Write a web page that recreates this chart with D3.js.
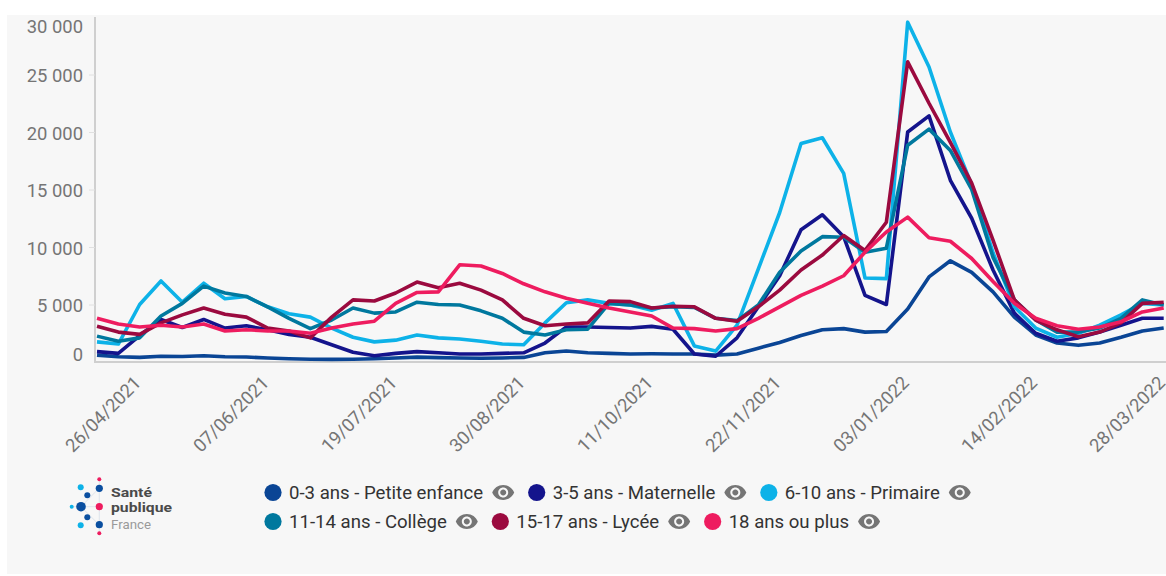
<!DOCTYPE html>
<html><head><meta charset="utf-8">
<script src="https://cdn.jsdelivr.net/npm/d3@7"></script>
<style>
html,body{margin:0;padding:0;background:#fff;overflow:hidden}
svg{display:block;font-family:Roboto,sans-serif}
</style></head><body>
<svg id="c" width="1166" height="576"></svg>
<script>
const firstWeek = "2021-04-12";
const tickLabels = ["26/04/2021","07/06/2021","19/07/2021","30/08/2021","11/10/2021","22/11/2021","03/01/2022","14/02/2022","28/03/2022"];
const yTicks = [0,5000,10000,15000,20000,25000,30000];

const petiteEnfance = [600,450,400,500,480,550,450,430,350,280,240,230,240,280,350,420,380,350,330,350,400,800,950,800,750,700,720,700,700,600,700,1200,1700,2300,2800,2900,2600,2650,4600,7400,8800,7800,6100,3900,2350,1650,1450,1650,2150,2700,2950];
const maternelle = [900,750,2300,3700,3000,3700,2950,3150,2800,2400,2150,1500,850,550,750,900,800,700,700,750,800,1650,3050,3050,3000,2950,3100,2850,700,500,2100,4800,7500,11500,12800,10900,5800,5000,20000,21400,15800,12500,8000,4250,2500,1800,2100,2600,3200,3800,3800];
const primaire = [1750,1560,5000,7050,5200,6850,5500,5700,4800,4200,3900,2950,2150,1750,1900,2350,2100,2000,1800,1560,1500,3400,5150,5400,5100,4950,4500,5100,1400,950,3200,8100,13000,19000,19500,16400,7300,7250,29550,25650,20000,15400,9500,4800,2950,2150,2500,3200,4100,5100,4950];
const college = [2250,1800,2100,4000,5100,6600,6000,5700,4800,3800,2900,3650,4700,4250,4350,5200,5000,4950,4450,3800,2600,2350,2800,2850,5100,4950,4700,4800,4750,3800,3600,4950,7800,9650,10900,10850,9550,9900,18850,20250,18400,15000,9100,5400,3650,2600,2600,2950,3800,5400,4950];
const lycee = [3100,2600,2400,3400,4100,4700,4150,3900,2950,2700,2100,3900,5400,5300,6000,6950,6450,6850,6250,5400,3800,3150,3300,3400,5300,5250,4700,4850,4800,3800,3550,4800,6250,8000,9300,11000,9700,12150,26100,22500,19100,15550,10600,5400,3650,2800,2200,2600,3400,5100,5200];
const adultes = [3800,3300,3050,3200,3050,3300,2700,2800,2700,2700,2500,2950,3300,3550,5100,6050,6100,8450,8350,7700,6800,6100,5550,5100,4700,4350,4000,2950,2900,2700,2900,3800,4800,5800,6600,7500,9550,11300,12600,10800,10500,9000,7000,5100,3800,3150,2850,3050,3500,4350,4700];

const seriesNames = ["0-3 ans - Petite enfance","3-5 ans - Maternelle","6-10 ans - Primaire","11-14 ans - Collège","15-17 ans - Lycée","18 ans ou plus"];
const seriesValues = [petiteEnfance,maternelle,primaire,college,lycee,adultes];
const seriesColors = ["#0a4595","#14148c","#0db2e8","#00789e","#9b0a3f","#ee1c5f"];

const svg = d3.select("#c");
svg.append("rect").attr("x",7).attr("y",15).attr("width",1159).attr("height",559).attr("fill","#f7f7f7");

const parse = d3.utcParse("%Y-%m-%d"), parseFr = d3.utcParse("%d/%m/%Y");
const t0 = parse(firstWeek);
const weeks = petiteEnfance.map((_,i)=>d3.utcDay.offset(t0,i*7));
const x = d3.scaleUtc().domain([t0,weeks[50]]).range([97,1163.7]);
const y = d3.scaleLinear().domain([0,30000]).range([362,17]);
const fmt = v => d3.format(",")(v).replace(/,/g," ");

// y axis
const gy = svg.append("g").attr("transform","translate(95,0)")
  .call(d3.axisLeft(y).tickValues(yTicks).tickSize(6).tickPadding(6).tickFormat(fmt));
gy.select(".domain").attr("stroke","#cfcfcf").attr("stroke-width",2).attr("d","M0,17V362");
gy.selectAll("line").attr("stroke","#e0e0e0").attr("stroke-width",1);
gy.selectAll(".tick").filter(d=>d===0||d===30000).select("line").remove();
gy.selectAll("text").attr("fill","#757575").attr("font-size",18.4).attr("font-family","Roboto")
  .attr("dy",d=> d===30000 ? "0.83em" : d===0 ? "-0.1em" : "0.4em");

// x axis
const gx = svg.append("g").attr("transform","translate(0,362)")
  .call(d3.axisBottom(x).tickValues(tickLabels.map(s=>parseFr(s))).tickSize(0).tickFormat(d3.utcFormat("%d/%m/%Y")));
gx.select(".domain").attr("stroke","#cfcfcf").attr("stroke-width",2).attr("d","M94,0H1166");
gx.selectAll("text").attr("fill","#757575").attr("font-size",18.4).attr("font-family","Roboto")
  .attr("text-anchor","end").attr("dy",0).attr("y",0)
  .attr("transform","translate(2,22) rotate(-45)");

// lines
const line = d3.line().x((d,i)=>x(weeks[i])).y(d=>y(d)).curve(d3.curveLinear);
svg.append("g").selectAll("path").data(seriesValues).join("path")
  .attr("d",line).attr("fill","none").attr("stroke",(d,i)=>seriesColors[i])
  .attr("stroke-width",3.6).attr("stroke-linejoin","round");

// legend
const eye = "M12 4.5C7 4.5 2.73 7.61 1 12c1.73 4.39 6 7.5 11 7.5s9.27-3.11 11-7.5c-1.73-4.39-6-7.5-11-7.5zM12 17c-2.76 0-5-2.24-5-5s2.24-5 5-5 5 2.24 5 5-2.24 5-5 5zm0-8c-1.66 0-3 1.34-3 3s1.34 3 3 3 3-1.34 3-3-1.34-3-3-3z";
const legend = svg.append("g");
let lx = 264.5;
seriesNames.forEach((n,i)=>{
  if(i===3) lx = 264.5;
  const ly = i<3 ? 492.5 : 521.5;
  legend.append("circle").attr("cx",lx+8.5).attr("cy",ly).attr("r",8.6).attr("fill",seriesColors[i]);
  const t = legend.append("text").attr("x",lx+24.5).attr("y",ly+6.3).attr("font-size",18.6)
    .attr("fill","#333").attr("font-family","Roboto").text(n);
  const w = t.node().getComputedTextLength();
  legend.append("path").attr("d",eye).attr("fill","#757575")
    .attr("transform",`translate(${lx+24.5+w+8},${ly-12})`);
  lx += 24.5+w+8+24+13;
});

// logo
const logoDots = [[99.3,479.3,2,"#ee1c5f"],[99.3,488.3,3.6,"#0a4fa0"],[80.7,487.3,3,"#0db2e8"],[87.3,495.3,3,"#0a4fa0"],[81,506.7,4.8,"#0a4fa0"],[71.7,506.7,2,"#0db2e8"],[99.3,506.7,3.6,"#ee1c5f"],[87.3,517.3,3,"#0a4fa0"],[80.7,525.3,3,"#0db2e8"],[99.3,524.7,3.6,"#0a4fa0"],[99.3,533.3,2,"#ee1c5f"]];
const logo = svg.append("g");
logo.append("path").attr("d","M99.3,481V532M72,506.7H99M81,506.7L99.3,488M81,506.7L99.3,525").attr("stroke","#d8dfe8").attr("stroke-width",0.8).attr("fill","none");
logo.selectAll("circle").data(logoDots).join("circle").attr("cx",d=>d[0]).attr("cy",d=>d[1]).attr("r",d=>d[2]).attr("fill",d=>d[3]);
[["Santé",497,13.5,"bold","#4a4a4a",41],["publique",512,13.5,"bold","#4a4a4a",61],["France",529,13.5,"normal","#9a9a9a",40]].forEach(r=>{
  logo.append("text").attr("x",111).attr("y",r[1]).attr("font-size",r[2]).attr("font-weight",r[3]).attr("fill",r[4])
    .attr("font-family","Roboto").attr("textLength",r[5]).attr("lengthAdjust","spacingAndGlyphs").text(r[0]);
});
</script>
</body></html>
